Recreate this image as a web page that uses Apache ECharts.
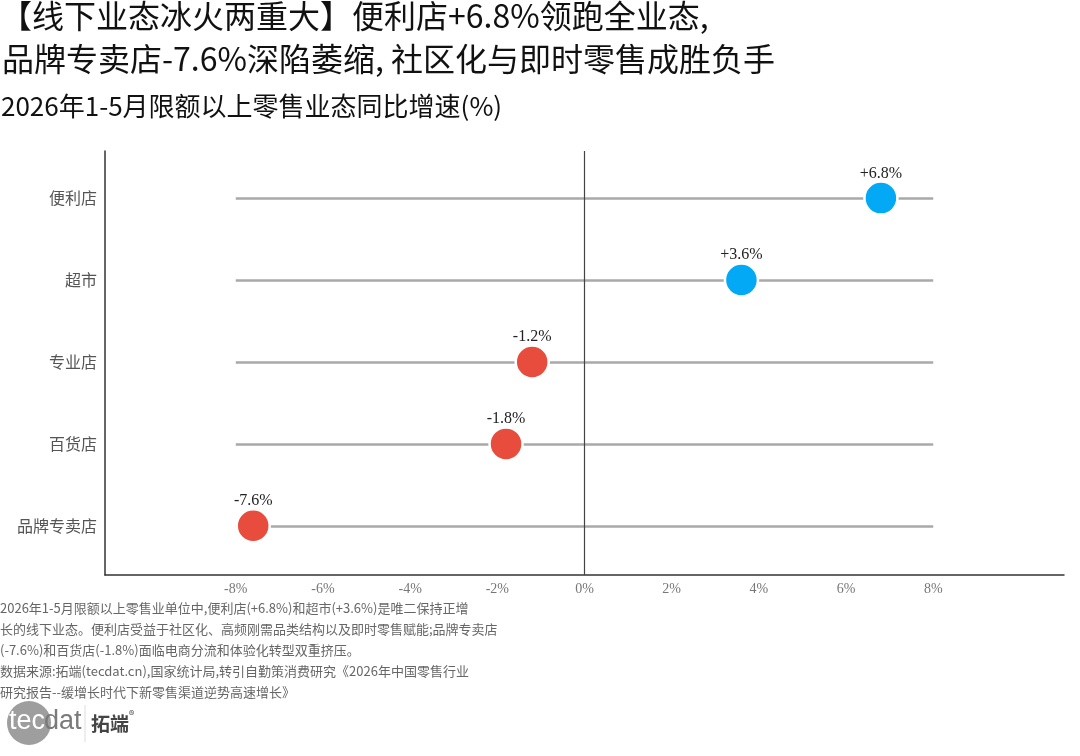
<!DOCTYPE html>
<html>
<head>
<meta charset="utf-8">
<script src="https://cdn.jsdelivr.net/npm/echarts@6/dist/echarts.min.js"></script>
<style>
  html, body { margin: 0; padding: 0; background: #fff; }
  #chart { width: 1080px; height: 756px; }
</style>
</head>
<body>
<div id="chart"></div>
<script>
// Year-on-year growth of retail formats, Jan-May 2026 (%)
const categories = ['便利店', '超市', '专业店', '百货店', '品牌专卖店'];
const growth = [6.8, 3.6, -1.2, -1.8, -7.6];
const xTicks = [-8, -6, -4, -2, 0, 2, 4, 6, 8];
const rangeLo = -8, rangeHi = 8; // grey guide line extent

const titleLines = [
  '【线下业态冰火两重大】便利店+6.8%领跑全业态,',
  '品牌专卖店-7.6%深陷萎缩, 社区化与即时零售成胜负手'
];
const subtitle = '2026年1-5月限额以上零售业态同比增速(%)';
const notes = [
  '2026年1-5月限额以上零售业单位中,便利店(+6.8%)和超市(+3.6%)是唯二保持正增',
  '长的线下业态。便利店受益于社区化、高频刚需品类结构以及即时零售赋能;品牌专卖店',
  '(-7.6%)和百货店(-1.8%)面临电商分流和体验化转型双重挤压。',
  '数据来源:拓端(tecdat.cn),国家统计局,转引自勤策消费研究《2026年中国零售行业',
  '研究报告--缓增长时代下新零售渠道逆势高速增长》'
];

const BLUE = '#03A9F4', RED = '#E84C3D';
const CJK = '"Noto Sans CJK SC", sans-serif';
const SERIF = '"Liberation Serif", "Noto Sans CJK SC", serif';

const fmtPct = (v) => (v > 0 ? '+' : '') + v.toFixed(1) + '%';

const chart = echarts.init(document.getElementById('chart'), null, { renderer: 'canvas' });

const guideLines = categories.map((c, i) => [
  { coord: [rangeLo, i] }, { coord: [rangeHi, i] }
]);

const textEl = (text, x, y, font, fill) => ({
  type: 'text', x, y,
  style: { text, font, fill, verticalAlign: 'middle' }
});

chart.setOption({
  animation: false,
  backgroundColor: '#fff',
  grid: { left: 105, right: 16, top: 151, bottom: 181 },
  xAxis: {
    type: 'value', min: -11, max: 11,
    axisLine: { show: true, onZero: false, lineStyle: { color: '#333', width: 1.5 } },
    axisTick: { show: false },
    splitLine: { show: false },
    axisLabel: {
      customValues: xTicks, formatter: (v) => v + '%',
      color: '#777', fontSize: 14, fontFamily: SERIF, margin: 7
    }
  },
  yAxis: {
    type: 'value', inverse: true, min: -0.575, max: 4.6,
    axisLine: { show: true, onZero: false, lineStyle: { color: '#333', width: 1.5 } },
    axisTick: { show: false },
    splitLine: { show: false },
    axisLabel: {
      customValues: categories.map((c, i) => i),
      formatter: (v) => categories[v] || '',
      color: '#555', fontSize: 16, fontFamily: CJK, margin: 8
    }
  },
  series: [
    {
      type: 'line', data: [], z: 1, silent: true,
      markLine: {
        symbol: 'none', silent: true, animation: false,
        label: { show: false },
        lineStyle: { color: '#a9a9a9', width: 2.5, type: 'solid' },
        data: [
          ...guideLines,
          { xAxis: 0, lineStyle: { color: '#444', width: 1.2, type: 'solid' } }
        ]
      }
    },
    {
      type: 'scatter', z: 5,
      symbolSize: 33,
      data: growth.map((v, i) => ({
        value: [v, i],
        itemStyle: { color: v >= 0 ? BLUE : RED }
      })),
      itemStyle: { borderColor: '#fff', borderWidth: 2.5, opacity: 1 },
      label: {
        show: true, position: 'top', distance: -1,
        formatter: (p) => fmtPct(p.value[0]),
        color: '#222', fontSize: 16, fontFamily: SERIF
      }
    }
  ],
  graphic: [
    textEl(titleLines[0], 0, 16, '32px ' + CJK, '#111'),
    textEl(titleLines[1], 2, 59, '32px ' + CJK, '#111'),
    textEl(subtitle, 1, 106, '26px ' + CJK, '#111'),
    {
      type: 'text', left: 0, top: 598,
      style: {
        text: notes.join('\n'), fill: '#666', font: '13px ' + CJK, lineHeight: 21
      }
    },
    { type: 'circle', shape: { cx: 29, cy: 723, r: 22 }, style: { fill: '#9e9e9e' } },
    textEl('tec', 9, 722, '27px "Liberation Sans Narrow", "Liberation Sans", sans-serif', '#fff'),
    textEl('dat', 44, 722, '27px "Liberation Sans Narrow", "Liberation Sans", sans-serif', '#7a7a7a'),
    { type: 'line', shape: { x1: 85, y1: 705, x2: 85, y2: 742 }, style: { stroke: '#ddd', lineWidth: 1 } },
    textEl('拓端', 91, 724, 'bold 19px ' + CJK, '#444'),
    textEl('®', 129, 715, '11px ' + CJK, '#444')
  ]
});
</script>
</body>
</html>
